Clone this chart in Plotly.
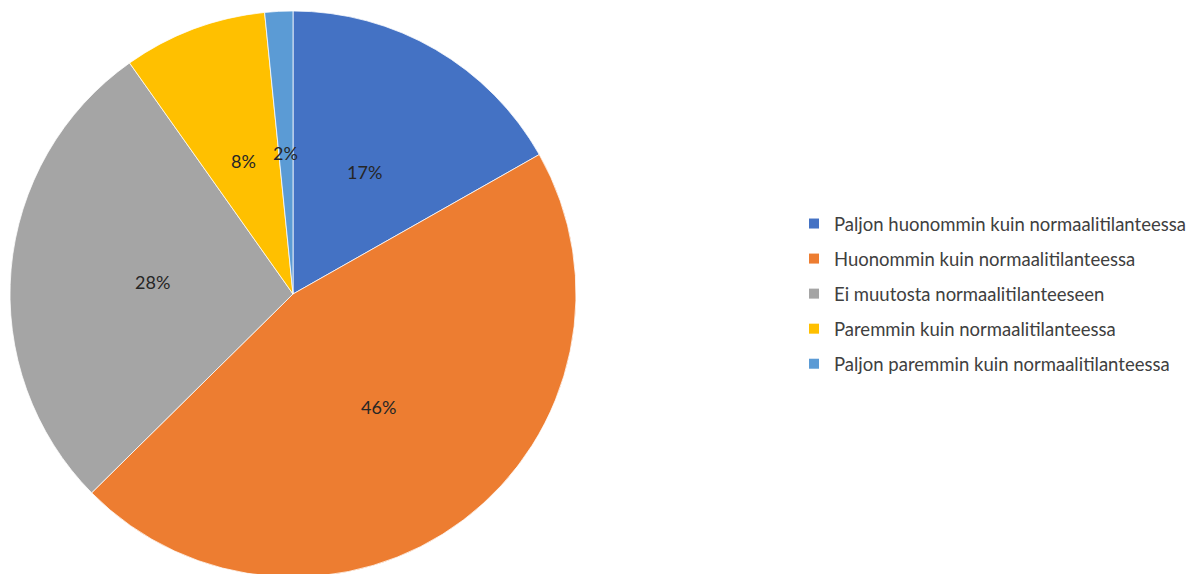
import math
import plotly.graph_objects as go

categories = [
    "Paljon huonommin kuin normaalitilanteessa",
    "Huonommin kuin normaalitilanteessa",
    "Ei muutosta normaalitilanteeseen",
    "Paremmin kuin normaalitilanteessa",
    "Paljon paremmin kuin normaalitilanteessa",
]
values = [16.8, 45.8, 27.6, 8.2, 1.6]
colors = ["#4472C4", "#ED7D31", "#A5A5A5", "#FFC000", "#5B9BD5"]

W, H = 1203, 574
OFF = 8  # page body margin
FONT = "Lato"
LABEL_COLOR = "#262626"
LEGEND_COLOR = "#404040"

# pie domain (pixels -> paper)
dom_x = [(10 - OFF) / W, (576 - OFF) / W]
dom_y = [1 - (577 - OFF) / H, 1 - (11 - OFF) / H]

fig = go.Figure()
fig.add_trace(go.Pie(
    labels=categories,
    values=values,
    sort=False,
    direction="clockwise",
    rotation=0,
    marker=dict(colors=colors, line=dict(color="white", width=0.75)),
    textinfo="none",
    hoverinfo="label+percent",
    showlegend=False,
    domain=dict(x=dom_x, y=dom_y),
))

# percentage labels at half radius on the mid angle of each slice
wpx = (dom_x[1] - dom_x[0]) * W
hpx = (dom_y[1] - dom_y[0]) * H
r_px = min(wpx, hpx) / 2
cx = (dom_x[0] + dom_x[1]) / 2
cy = (dom_y[0] + dom_y[1]) / 2
total = sum(values)
cum = 0.0
for v in values:
    mid = (cum + v / 2) / total * 2 * math.pi
    cum += v
    x = cx + 0.5 * r_px * math.sin(mid) / W
    y = cy + 0.5 * r_px * math.cos(mid) / H
    fig.add_annotation(
        x=x, y=y, xref="paper", yref="paper",
        text=f"{round(v / total * 100)}%",
        showarrow=False,
        font=dict(family=FONT, size=18, color=LABEL_COLOR),
        xanchor="center", yanchor="middle",
    )

# legend entries
for i, (name, c) in enumerate(zip(categories, colors)):
    fig.add_trace(go.Scatter(
        x=[None], y=[None], mode="markers", name=name,
        marker=dict(symbol="square", size=10, color=c),
        legendgroup=f"g{i}", showlegend=True,
    ))

fig.update_layout(
    width=W, height=H,
    margin=dict(l=0, r=0, t=0, b=0),
    paper_bgcolor="white",
    plot_bgcolor="white",
    xaxis=dict(visible=False),
    yaxis=dict(visible=False),
    legend=dict(
        x=(834 - OFF - 40) / W, y=1 - (294 - OFF) / H,
        xanchor="left", yanchor="middle",
        font=dict(family=FONT, size=18.5, color=LEGEND_COLOR),
        tracegroupgap=8,
        bgcolor="rgba(0,0,0,0)",
    ),
)

fig.write_html("out.html")
